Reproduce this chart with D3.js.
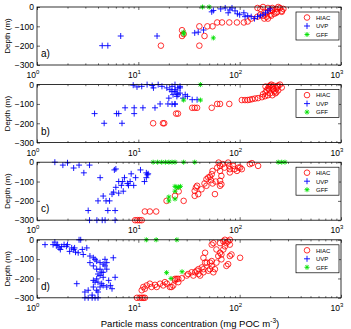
<!DOCTYPE html>
<html>
<head>
<meta charset="utf-8">
<script src="https://cdn.jsdelivr.net/npm/d3@7"></script>
<style>
body { margin: 0; background: #fff; }
text { font-family: "Liberation Sans", Arial, sans-serif; }
</style>
</head>
<body>
<script>
// [concentration, depth] pairs
var hiacA = [[16.7,-200],[27,-150],[27,-120],[28,-140],[40,-200],[40,-100],[45,-150],[48,-100],[54,-100],[60,-80],[67,-80],[79,-80],[94,-80],
  [110,-80],[120,-75],[130,-60],[150,-50],[160,-40],[170,-45],[180,-30],[190,-25],[200,-20],[210,-15],[230,-10],[250,-5],[270,-10],[235,-25],
  [220,-35],[200,-40],[185,-50],[160,-10],[150,-5],[170,0],[190,-5],[210,-5],[240,0],[260,-20],[175,-60],[190,-60],[205,-45],[230,-30],[260,-25]];
var uvpA = [[4.4,-200],[5.0,-200],[6.7,-150],[15.3,-150],[36,-134],[39,-130],[44,-119],[53,-25],[55,-18],[72,-5],[84,-5],[77,-30],[90,-20],
  [95,-35],[100,-40],[113,-50],[120,-45],[130,-50],[150,-50],[140,-60],[160,-45],[170,-40],[180,-30],[190,-20],[200,-10],[110,-30],[80,-15],[65,-10]];
var gffA = [[28,-130],[28,-140],[43,0],[50,0],[55,-160]];

var hiacB = [[14,-200],[17.5,-200],[18,-200],[23.6,-150],[24.6,-150],[34,-120],[36,-120],[38,-120],[53,-120],[60,-100],[64,-100],[79,-100],
  [105,-80],[113,-80],[120,-80],[126,-78],[133,-75],[142,-72],[152,-70],[166,-65],[178,-60],[170,-50],[180,-40],[185,-30],[190,-20],[195,-10],
  [200,-5],[205,0],[210,-15],[215,-25],[220,-35],[225,-45],[230,-20],[235,-10],[240,-5],[250,0],[200,-45],[190,-55],[210,-55],[240,-30],
  [260,-15],[180,-10],[195,-25],[215,-5],[230,-40]];
var uvpB = [[3.7,-150],[4.6,-200],[6.1,-150],[6.4,-150],[6.9,-200],[7.4,-120],[9.1,-150],[9.1,-120],[11.1,-120],[14.6,-120],[16.4,-100],
  [19.6,-100],[23,-100],[20,-70],[8.9,-3],[9.7,-12],[10.8,-9],[12.2,0],[13.7,-5],[14.1,-17],[15.7,0],[17.1,-9],[19.1,-17],[20.5,-26],
  [21.4,-35],[23,-26],[24,-44],[24.6,-52],[25.8,-17],[21.5,-9],[23,0],[24.6,-17],[25.8,-9],[23,-35],[25.8,-44],[29,-52],[22,-52],
  [24,-61],[30.5,-61],[21.5,-101],[23,-101],[27.6,-70],[34,-78],[38,-78]];
var gffB = [[41,0],[28,-80],[41,-80]];

var hiacC = [[9.3,-300],[9.8,-300],[10.3,-300],[10.8,-300],[11.6,-255],[13,-255],[15,-255],[19,-200],[23,-174],[25,-151],[28,-200],
  [36,-174],[36,-148],[37,-131],[38,-122],[39,-165],[47,-122],[47,-88],[49,-79],[51,-76],[52,-93],[53,-62],[54,-45],[57,-165],[64,-122],
  [64,-96],[66,-114],[66,-71],[60,-28],[62,-2],[64,-19],[64,-45],[68,-10],[71,-28],[77,-2],[79,-19],[80,-36],[80,-53],[86,-19],[89,-36],
  [94,-45],[97,-28],[101,-28],[105,-36],[126,-10],[132,-5],[152,-19],[58,-100],[45,-110],[42,-140],[54,-110]];
var uvpC = [[1.5,0],[1.8,-15],[2.0,-3],[2.3,-30],[2.6,-15],[2.9,-55],[3.3,-15],[4.2,-80],[3.2,-250],[3.3,-300],[3.9,-300],[4.4,-300],
  [4.7,-300],[5.9,-300],[4.5,-175],[4.0,-200],[4.8,-200],[5.2,-200],[5.0,-250],[5.9,-250],[5.7,-155],[6.0,-130],[6.4,-100],[6.4,-160],
  [7.0,-100],[7.3,-80],[7.8,-110],[8.0,-120],[8.3,-100],[7.1,-150],[9.0,-120],[9.4,-80],[8.5,-60],[6.0,-35],[5.8,-40],[10.5,-40],
  [12,-55],[12.3,-65],[11.5,-100],[12.5,-60],[12,-80],[6.8,-120],[5.5,-165]];
var gffC = [[14,0],[15.5,0],[17,0],[18.5,0],[20,0],[21.5,0],[23,0],[28,0],[36,0],[240,0],[260,0],[280,0],[20,-200],[20,-180],[23,-150],
  [24,-130],[23,-125],[25,-130],[26,-125],[23,-190]];

var hiacD = [[9.7,-300],[10.3,-300],[10.8,-300],[11.2,-300],[11.6,-300],[10.8,-261],[11.2,-244],[11.6,-253],[12.1,-236],[13,-227],
  [13.5,-244],[14.6,-233],[15.2,-244],[16.4,-227],[17.6,-236],[18.3,-219],[19.1,-227],[20.5,-244],[22.1,-236],[23,-210],[23.9,-202],
  [24.8,-219],[21.3,-244],[23,-202],[24.8,-202],[26.8,-199],[30,-185],[31,-177],[33.6,-168],[34.9,-185],[36.3,-168],[37.7,-160],
  [39.2,-177],[39.2,-152],[40.7,-185],[42.3,-143],[43.9,-168],[43.9,-152],[45.6,-118],[43.9,-93],[45.6,-67],[47.4,-118],[49,-160],
  [51,-152],[53,-135],[53,-110],[55,-168],[57,-152],[59,-118],[61.5,-84],[64,-67],[66,-76],[69,-50],[71.5,-34],[74,-17],[77,-8],
  [80,-25],[80,-84],[83,-76],[77,-126],[74,-135],[66,-101],[59,-50],[55,-17],[53,-25],[64,-17],[69,-8],[71.5,0],[80,0],[101,-93],
  [51,-118]];
var uvpD = [[1.2,-25],[1.44,-25],[1.5,-12],[1.6,-25],[1.65,-42],[1.7,-50],[1.85,-25],[1.95,-34],[2.0,-25],[2.2,-42],[2.3,-50],
  [2.35,-42],[2.4,-64],[2.55,-67],[2.6,0],[2.7,0],[2.8,-50],[3.1,-42],[1.55,-30],[1.75,-35],[2.1,-60],[2.86,-76],[3.33,-84],[3.6,-93],
  [3.74,-101],[3.88,-110],[4.19,-118],[4.5,-126],[4.69,-135],[4.88,-152],[4.5,-168],[4.19,-185],[3.88,-202],[3.6,-210],[3.74,-219],
  [4.0,-219],[4.35,-227],[4.5,-236],[4.88,-244],[5.3,-236],[5.5,-253],[5.66,-93],[2.97,-270],[3.2,-261],[2.47,-227],[3.5,-286],
  [4.0,-270],[2.97,-300],[3.2,-300],[3.5,-300],[3.74,-300],[4.0,-300],[4.19,-152],[4.35,-168],[4.0,-177],[4.5,-194],[5.1,-210],
  [4.19,-244],[3.6,-244],[3.88,-261],[5.9,-194],[3.88,-152],[3.6,-135],[3.33,-118],[4.88,-118],[4.69,-101]];
var gffD = [[12,0],[15,0],[24,0],[19,-170],[21,-200],[27,-165]];

var panels = [
  {label: "a)", hiac: hiacA, uvp: uvpA, gff: gffA},
  {label: "b)", hiac: hiacB, uvp: uvpB, gff: gffB},
  {label: "c)", hiac: hiacC, uvp: uvpC, gff: gffC},
  {label: "d)", hiac: hiacD, uvp: uvpD, gff: gffD}
];
var xTicks = [1, 10, 100, 1000];
var yTicks = [0, -100, -200, -300];
var legendNames = ["HIAC", "UVP", "GFF"];

var width = 351, height = 329,
    left = 37, right = 341,
    top0 = 7, step = 77.6, ph = 58;

var svg = d3.select("body").append("svg")
    .attr("width", width)
    .attr("height", height);

var x = d3.scaleLog().domain([1, 1000]).range([left, right]);
var y = d3.scaleLinear().domain([-300, 0]).range([ph, 0]);

var minor = [];
[1, 10, 100].forEach(function(d) { for (var k = 2; k < 10; k++) minor.push(d * k); });

function circleM(g) {
  g.append("circle").attr("r", 2.8).attr("fill", "none").attr("stroke", "#ff0000").attr("stroke-width", 0.8);
}
function plusM(g) {
  g.append("path").attr("d", "M-3,0H3M0,-3V3").attr("stroke", "#0000ff").attr("stroke-width", 0.9);
}
function starM(g) {
  g.append("path").attr("d", "M-2.5,0H2.5M0,-2.5V2.5M-1.8,-1.8L1.8,1.8M-1.8,1.8L1.8,-1.8")
    .attr("stroke", "#00e000").attr("stroke-width", 0.9);
}
var markers = [circleM, plusM, starM];

panels.forEach(function(p, i) {
  var g = svg.append("g").attr("transform", "translate(0," + (top0 + i * step) + ")");

  // ticks, inward like matlab
  g.append("g").attr("transform", "translate(0," + ph + ")")
    .call(d3.axisBottom(x).tickValues(xTicks).tickSize(-3).tickSizeOuter(0).tickFormat(""));
  g.append("g").attr("transform", "translate(0," + ph + ")")
    .call(d3.axisBottom(x).tickValues(minor).tickSize(-1.6).tickSizeOuter(0).tickFormat(""));
  g.append("g")
    .call(d3.axisTop(x).tickValues(xTicks).tickSize(-3).tickSizeOuter(0).tickFormat(""));
  g.append("g")
    .call(d3.axisTop(x).tickValues(minor).tickSize(-1.6).tickSizeOuter(0).tickFormat(""));
  g.append("g").attr("transform", "translate(" + left + ",0)")
    .call(d3.axisLeft(y).tickValues(yTicks).tickSize(-3).tickSizeOuter(0).tickPadding(3).tickFormat(d3.format("d")))
    .call(function(a) { a.selectAll("text").attr("font-size", 8.5).attr("font-family", "Liberation Sans, Arial"); });
  g.append("g").attr("transform", "translate(" + right + ",0)")
    .call(d3.axisRight(y).tickValues(yTicks).tickSize(-3).tickSizeOuter(0).tickFormat(""));
  g.selectAll(".domain").remove();
  g.selectAll(".tick line").attr("stroke", "#000").attr("stroke-width", 0.6);

  // x tick labels 10^n
  var lab = g.selectAll(".xl").data(xTicks).enter().append("text")
    .attr("class", "xl")
    .attr("x", function(d) { return x(d) - 4; })
    .attr("y", ph + 13)
    .attr("font-size", 8.5)
    .attr("text-anchor", "middle");
  lab.append("tspan").text("10");
  lab.append("tspan").attr("dy", -4).attr("font-size", 6).text(function(d) { return Math.round(Math.log10(d)); });

  // scatter
  [p.hiac, p.uvp, p.gff].forEach(function(s, k) {
    g.selectAll(".m" + k).data(s).enter().append("g")
      .attr("class", "m" + k)
      .attr("transform", function(d) { return "translate(" + x(d[0]) + "," + y(d[1]) + ")"; })
      .each(function() { markers[k](d3.select(this)); });
  });

  g.append("rect")
    .attr("x", left).attr("y", 0)
    .attr("width", right - left).attr("height", ph)
    .attr("fill", "none").attr("stroke", "#000").attr("stroke-width", 0.8);

  g.append("text")
    .attr("x", 41).attr("y", 50)
    .attr("font-family", "Liberation Serif, Times New Roman, serif")
    .attr("font-size", 10)
    .text(p.label);

  g.append("text")
    .attr("transform", "translate(10," + (ph / 2) + ") rotate(-90)")
    .attr("text-anchor", "middle")
    .attr("font-size", 8)
    .text("Depth (m)");

  // legend
  var lg = g.append("g").attr("transform", "translate(296,5)");
  lg.append("rect").attr("width", 43).attr("height", 28)
    .attr("fill", "#fff").attr("stroke", "#000").attr("stroke-width", 0.7);
  legendNames.forEach(function(n, k) {
    var row = lg.append("g").attr("transform", "translate(11," + (5.5 + k * 8.5) + ")");
    markers[k](row);
    row.append("text").attr("x", 9).attr("y", 2.3).attr("font-size", 6).text(n);
  });
});

var xl = svg.append("text")
  .attr("x", 190).attr("y", 327)
  .attr("text-anchor", "middle")
  .attr("font-size", 9.5);
xl.append("tspan").text("Particle mass concentration (mg POC m");
xl.append("tspan").attr("dy", -4).attr("font-size", 6.5).text("-3");
xl.append("tspan").attr("dy", 4).text(")");
</script>
</body>
</html>
